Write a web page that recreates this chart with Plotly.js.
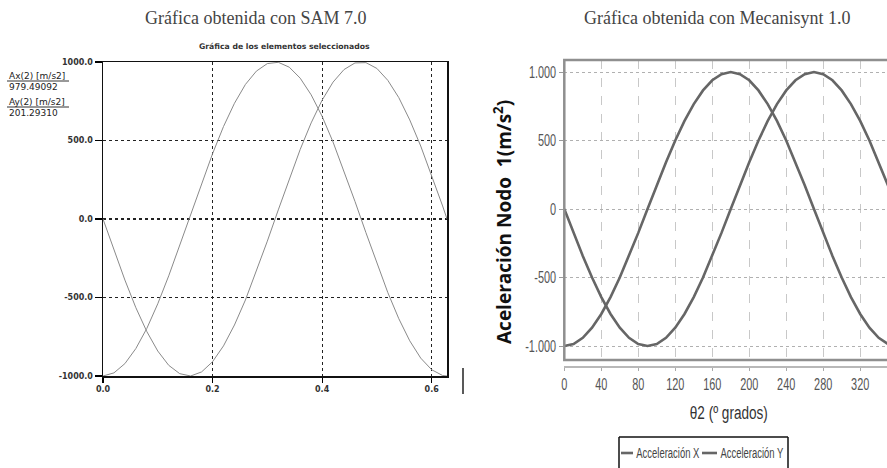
<!DOCTYPE html>
<html>
<head>
<meta charset="utf-8">
<script src="https://cdn.plot.ly/plotly-3.0.1.min.js"></script>
<style>html,body{margin:0;padding:0;background:#fff;}#chart{width:887px;height:468px;}</style>
</head>
<body>
<div id="chart"></div>
<script>
// ---- Left chart (SAM 7.0): time in s, accelerations in m/s2 ----
const samTime = [0,0.02,0.04,0.06,0.08,0.10,0.12,0.14,0.16,0.18,0.20,0.22,0.24,0.26,0.28,0.30,0.32,0.34,0.36,0.38,0.40,0.42,0.44,0.46,0.48,0.50,0.52,0.54,0.56,0.58,0.60,0.62,0.628];
const samAx = [0,-199,-389,-565,-717,-841,-932,-985,-1000,-974,-909,-808,-675,-516,-335,-141,58,256,443,612,757,872,952,994,996,959,883,773,631,465,279,83,0];
const samAy = [-1000,-980,-921,-825,-697,-540,-362,-170,29,227,416,589,737,857,942,990,998,967,897,791,654,490,307,112,-87,-284,-469,-635,-776,-886,-960,-997,-1000];
const samXTicks = [0,0.2,0.4,0.6];
const samXTickText = ['0.0','0.2','0.4','0.6'];
const samYTicks = [-1000,-500,0,500,1000];
const samYTickText = ['-1000.0','-500.0','0.0','500.0','1000.0'];
const samReadout = ['Ax(2) [m/s2]','979.49092','Ay(2) [m/s2]','201.29310'];

// ---- Right chart (Mecanisynt 1.0): crank angle in degrees ----
const mecTheta = [0,10,20,30,40,50,60,70,80,90,100,110,120,130,140,150,160,170,180,190,200,210,220,230,240,250,260,270,280,290,300,310,320,330,340,350,360];
const mecAccX = [0,-174,-342,-500,-643,-766,-866,-940,-985,-1000,-985,-940,-866,-766,-643,-500,-342,-174,0,174,342,500,643,766,866,940,985,1000,985,940,866,766,643,500,342,174,0];
const mecAccY = [-1000,-985,-940,-866,-766,-643,-500,-342,-174,0,174,342,500,643,766,866,940,985,1000,985,940,866,766,643,500,342,174,0,-174,-342,-500,-643,-766,-866,-940,-985,-1000];
const mecXTicks = [0,40,80,120,160,200,240,280,320];
const mecYTicks = [-1000,-500,0,500,1000];
const mecYTickText = ['-1.000','-500','0','500','1.000'];
const mecSeriesNames = ['Acceleración X','Acceleración Y'];

const W = 887, H = 468;
const px = v => v / W;
const py = v => 1 - v / H;

const sans = 'Liberation Sans, Arial, sans-serif';
const wide = 'DejaVu Sans, Verdana, sans-serif';
const serif = 'Liberation Serif, Times New Roman, serif';
const mecLine = '#666666';

const traces = [
  {x: samTime, y: samAx, xaxis: 'x', yaxis: 'y', mode: 'lines', line: {color: '#8a8a8a', width: 1}, showlegend: false, name: 'Ax(2)'},
  {x: samTime, y: samAy, xaxis: 'x', yaxis: 'y', mode: 'lines', line: {color: '#8a8a8a', width: 1}, showlegend: false, name: 'Ay(2)'},
  {x: mecTheta, y: mecAccX, xaxis: 'x2', yaxis: 'y2', mode: 'lines', line: {color: mecLine, width: 2.6}, showlegend: false, name: mecSeriesNames[0]},
  {x: mecTheta, y: mecAccY, xaxis: 'x2', yaxis: 'y2', mode: 'lines', line: {color: mecLine, width: 2.6}, showlegend: false, name: mecSeriesNames[1]}
];

function ann(text, x, y, font, extra) {
  return Object.assign({text: text, xref: 'paper', yref: 'paper', x: px(x), y: py(y), xanchor: 'center', yanchor: 'middle', showarrow: false, font: font}, extra || {});
}
function seg(x0, y0, x1, y1, color, width) {
  return {type: 'line', xref: 'paper', yref: 'paper', x0: px(x0), x1: px(x1), y0: py(y0), y1: py(y1), line: {color: color, width: width}};
}

const NB = '\u00A0';
const legendText = mecSeriesNames[0] + NB.repeat(8) + mecSeriesNames[1];
const xTitle = 'θ2 (º grados)';

const layout = {
  width: W, height: H,
  margin: {l: 0, r: 0, t: 0, b: 0},
  paper_bgcolor: '#ffffff',
  plot_bgcolor: '#ffffff',
  showlegend: false,
  xaxis: {
    domain: [px(103), px(447)], range: [0, 0.628], anchor: 'y',
    tickvals: samXTicks, ticktext: samXTickText,
    ticks: 'outside', ticklen: 5, tickcolor: '#000', tickwidth: 1.2,
    tickfont: {family: wide, size: 8, color: '#333', weight: 'bold'},
    showline: true, linecolor: '#111', linewidth: 1.5, mirror: true,
    showgrid: true, gridcolor: '#222', gridwidth: 1.2, griddash: 'dot',
    zeroline: false, fixedrange: true
  },
  yaxis: {
    domain: [py(376), py(62)], range: [-1000, 1000], anchor: 'x',
    tickvals: samYTicks, ticktext: samYTickText,
    ticks: 'outside', ticklen: 7, tickcolor: '#000', tickwidth: 1.2,
    tickfont: {family: wide, size: 8, color: '#333', weight: 'bold'},
    showline: true, linecolor: '#111', linewidth: 1.5, mirror: true,
    showgrid: true, gridcolor: '#222', gridwidth: 1.2, griddash: 'dot',
    zeroline: false, fixedrange: true
  },
  xaxis2: {
    domain: [px(564.3), 1], range: [0, 349], anchor: 'free', position: py(367),
    tickvals: mecXTicks,
    ticks: 'outside', ticklen: 3, tickcolor: '#aaa',
    tickfont: {family: sans, size: 16, color: '#555'},
    showline: true, linecolor: '#b8b8b8', linewidth: 2,
    showgrid: true, gridcolor: '#c8c8c8', gridwidth: 1, griddash: 'dash',
    zeroline: false, fixedrange: true
  },
  yaxis2: {
    domain: [py(360), py(60)], range: [-1102, 1088], anchor: 'x2',
    tickvals: mecYTicks, ticktext: mecYTickText,
    ticks: 'outside', ticklen: 4, tickcolor: '#999',
    tickfont: {family: sans, size: 16, color: '#555'},
    showline: false,
    showgrid: true, gridcolor: '#b0b0b0', gridwidth: 1, griddash: 'dot',
    zeroline: false, fixedrange: true
  },
  shapes: [
    // right plot frame
    {type: 'rect', xref: 'x2 domain', yref: 'y2 domain', x0: 0, x1: 1.01, y0: 0, y1: 1, line: {color: '#8f8f8f', width: 2.5}, layer: 'above'},
    // SAM readout underlines
    seg(7, 81, 69, 81, '#333', 1),
    seg(7, 107, 69, 107, '#333', 1),
    // separator stroke
    seg(463, 368, 463, 394, '#222', 1.5),
    // legend frame (open at the picture's bottom edge) and keys
    seg(619, 437, 788, 437, '#111', 1.5),
    seg(619, 437, 619, 470, '#111', 1.5),
    seg(788, 437, 788, 470, '#111', 1.5),
    seg(621, 453, 633, 453, mecLine, 2.6),
    seg(702, 453, 717, 453, mecLine, 2.6)
  ],
  annotations: [
    ann('Gráfica obtenida con SAM 7.0', 255, 18, {family: serif, size: 18, color: '#444'}),
    ann('Gráfica obtenida con Mecanisynt 1.0', 717, 18, {family: serif, size: 18, color: '#444'}),
    ann('<b>Gráfica de los elementos seleccionados</b>', 284, 47, {family: wide, size: 7.7, color: '#333'}),
    ann(samReadout[0], 7, 76, {family: wide, size: 9, color: '#222'}, {xanchor: 'left'}),
    ann(samReadout[1], 7, 86.5, {family: wide, size: 9, color: '#222'}, {xanchor: 'left'}),
    ann(samReadout[2], 7, 102, {family: wide, size: 9, color: '#222'}, {xanchor: 'left'}),
    ann(samReadout[3], 7, 112.5, {family: wide, size: 9, color: '#222'}, {xanchor: 'left'}),
    ann('<b>Aceleración Nodo  1(m/s<sup>2</sup>)</b>', 503, 222, {family: 'Open Sans, sans-serif', size: 19, color: '#111'}, {textangle: -90}),
    ann(xTitle, 729, 413, {family: sans, size: 18, color: '#333'}),
    ann(legendText, 709.5, 453, {family: sans, size: 14, color: '#444'})
  ]
};

// narrow-font look of the Mecanisynt picture: condense glyphs horizontally
function condenseTo(el, target) {
  const w = el.getComputedTextLength();
  if (w > 0) {
    el.setAttribute('textLength', target.toFixed(1));
    el.setAttribute('lengthAdjust', 'spacingAndGlyphs');
  }
}

Plotly.newPlot('chart', traces, layout, {displayModeBar: false, staticPlot: true}).then(gd => {
  gd.querySelectorAll('.x2tick text, .y2tick text').forEach(t => condenseTo(t, t.getComputedTextLength() * 0.68));
  gd.querySelectorAll('text.annotation-text').forEach(t => {
    const s = t.textContent;
    if (s === xTitle) condenseTo(t, 78);
    else if (s === legendText) condenseTo(t, 147);
  });
});
</script>
</body>
</html>
